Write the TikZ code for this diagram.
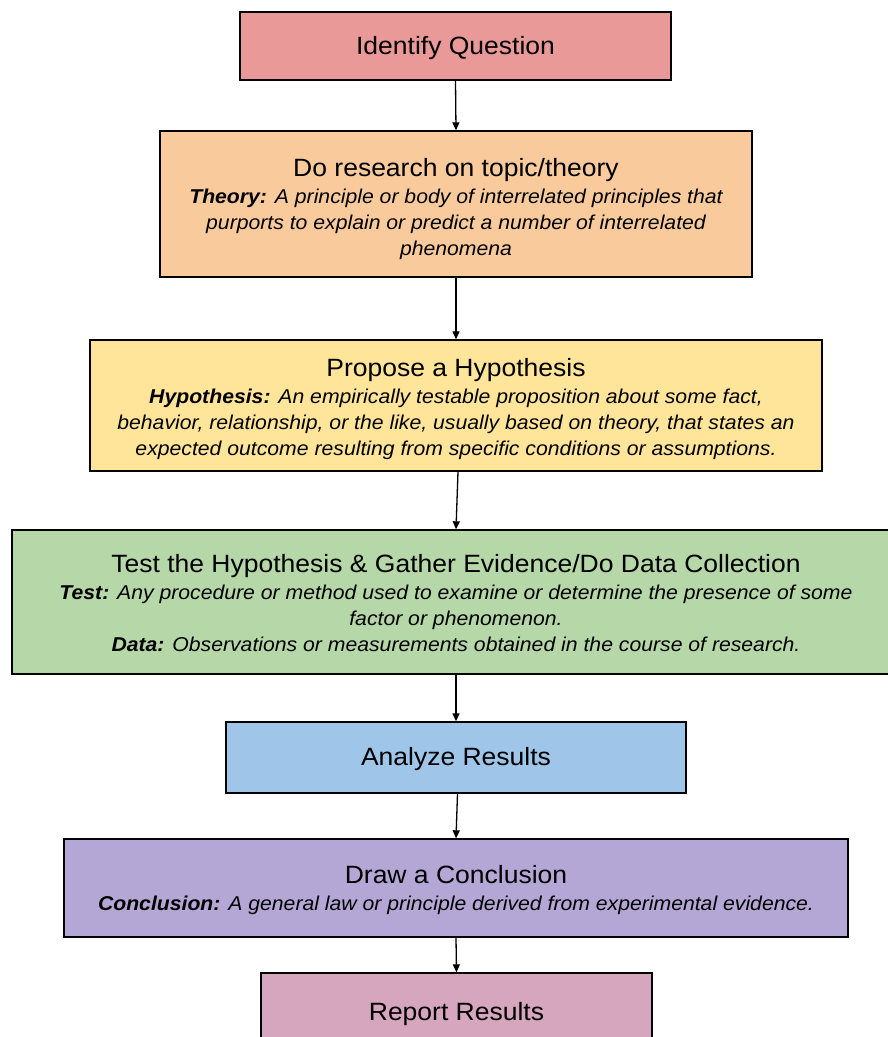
\documentclass[tikz,border=0pt]{standalone}
\usepackage{fontspec}
\setmainfont[FakeStretch=1.06]{Liberation Sans}
\usetikzlibrary{arrows.meta,shadows}
\definecolor{cRed}{HTML}{EA9999}
\definecolor{cOrange}{HTML}{F9CB9C}
\definecolor{cYellow}{HTML}{FFE599}
\definecolor{cGreen}{HTML}{B6D7A8}
\definecolor{cBlue}{HTML}{9FC5E8}
\definecolor{cPurple}{HTML}{B4A7D6}
\definecolor{cMagenta}{HTML}{D5A6BD}
\newcommand{\tfont}{\fontsize{25}{30}\selectfont\upshape}
\newcommand{\dfont}{\fontsize{20}{26}\selectfont\itshape}
% strut above the first line / below the last line
\newcommand{\ustrut}[1]{\rule{0pt}{#1pt}}
\newcommand{\lstrut}[1]{\rule[-#1pt]{0pt}{#1pt}}
\begin{document}
\begin{tikzpicture}[x=1pt,y=-1pt,
  stepbox/.style={draw=black, line width=1.4pt, inner sep=0pt, align=center, font=\dfont,
    drop shadow={shadow xshift=1.2pt, shadow yshift=-1.2pt, fill=black, opacity=0.18}},
  conn/.style={-{Triangle[length=8pt,width=7pt]}, line width=1.3pt}]
\useasboundingbox (0,0) rectangle (888,1037);
\clip (0,0) rectangle (888,1037);
\node[stepbox, fill=cRed, minimum width=431pt, minimum height=68pt] (q) at (455.5,46)
  {\tfont\ustrut{23}\lstrut{7}Identify Question};
\node[stepbox, fill=cOrange, minimum width=592pt, minimum height=146pt] (r) at (456,204)
  {{\tfont\ustrut{30}Do research on topic/theory}\\[1pt]
   \textbf{Theory:} A principle or body of interrelated principles that\\
   purports to explain or predict a number of interrelated\\
   phenomena\lstrut{7}};
\node[stepbox, fill=cYellow, minimum width=732pt, minimum height=131pt] (h) at (456,405.5)
  {{\tfont\ustrut{28}Propose a Hypothesis}\\[1pt]
   \textbf{Hypothesis:} An empirically testable proposition about some fact,\\
   behavior, relationship, or the like, usually based on theory, that states an\\
   expected outcome resulting from specific conditions or assumptions.\lstrut{7}};
\node[stepbox, fill=cGreen, minimum width=888pt, minimum height=144pt] (t) at (456,602)
  {{\tfont\ustrut{27}Test the Hypothesis \& Gather Evidence/Do Data Collection}\\[1pt]
   \textbf{Test:} Any procedure or method used to examine or determine the presence of some\\
   factor or phenomenon.\\
   \textbf{Data:} Observations or measurements obtained in the course of research.\lstrut{7}};
\node[stepbox, fill=cBlue, minimum width=460pt, minimum height=71pt] (a) at (456,757.5)
  {\tfont\ustrut{22}\lstrut{7}Analyze Results};
\node[stepbox, fill=cPurple, minimum width=784pt, minimum height=98pt] (c) at (456,888)
  {{\tfont\ustrut{24}Draw a Conclusion}\\[1pt]
   \textbf{Conclusion:} A general law or principle derived from experimental evidence.\lstrut{7}};
\node[stepbox, fill=cMagenta, minimum width=391pt, minimum height=77pt] (rep) at (456.5,1011.5)
  {\tfont\ustrut{24}\lstrut{7}Report Results};
\draw[conn] (q.south) -- (r.north);
\draw[conn] (r.south) -- (h.north);
\draw[conn] ([xshift=2pt]h.south) -- (t.north);
\draw[conn] (t.south) -- (a.north);
\draw[conn] ([xshift=1.5pt]a.south) -- (c.north);
\draw[conn] (c.south) -- (rep.north);
\end{tikzpicture}
\end{document}
